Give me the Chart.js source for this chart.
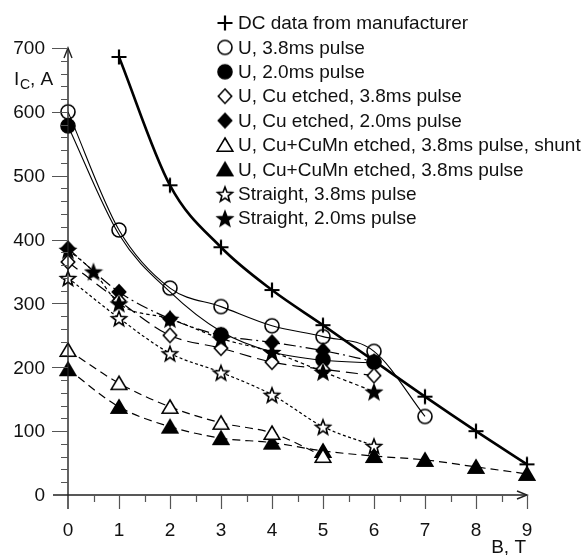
<!DOCTYPE html>
<html>
<head>
<meta charset="utf-8">
<script src="https://cdn.jsdelivr.net/npm/chart.js@4.4.1/dist/chart.umd.min.js"></script>
<style>
  html, body { margin: 0; padding: 0; background: #fff; }
  #wrap { width: 587px; height: 555px; }
</style>
</head>
<body>
<div id="wrap"><canvas id="chart" width="587" height="555"></canvas></div>
<script>
// ---------------------------------------------
// Data (B in T, Ic in A)
// ---------------------------------------------
const dcB      = [1, 2, 3, 4, 5, 6, 7, 8, 9];
const dcIc     = [686, 485, 388, 321, 266, 210, 154, 100, 48];
const dcMarked = [1, 1, 1, 1, 1, 0, 1, 1, 1];   // no "+" drawn at 6 T

const u38B  = [0, 1, 2, 3, 4, 5, 6, 7];
const u38Ic = [600, 415, 324, 295, 265, 248, 225, 123];

const u20B  = [0, 3, 5, 6];
const u20Ic = [578, 251, 212, 208];
// fitted curve drawn through the 2.0ms points
const u20FitB  = [0, 1, 2, 3, 4, 5, 6];
const u20FitIc = [578, 408, 318, 256, 224, 211, 207];

const cu38B  = [0, 1, 2, 3, 4, 5, 6];
const cu38Ic = [365, 304, 250, 230, 208, 197, 187];

const cu20B  = [0, 1, 2, 3, 4, 5, 6];
const cu20Ic = [386, 318, 276, 250, 239, 226, 209];

const mnShuntB  = [0, 1, 2, 3, 4, 5];
const mnShuntIc = [227, 175, 138, 113, 97, 61];

const mn38B  = [0, 1, 2, 3, 4, 5, 6, 7, 8, 9];
const mn38Ic = [197, 138, 107, 89, 82, 69, 61, 55, 44, 33];

const st38B  = [0, 1, 2, 3, 4, 5, 6];
const st38Ic = [340, 277, 222, 192, 157, 107, 77];

const st20B  = [0, 0.5, 1, 2, 3, 4, 5, 6];
const st20Ic = [384, 350, 300, 276, 245, 224, 193, 162];

const xTicks = [0, 1, 2, 3, 4, 5, 6, 7, 8, 9];
const yTicks = [0, 100, 200, 300, 400, 500, 600, 700];

const legendLabels = [
  'DC data from manufacturer',
  'U, 3.8ms pulse',
  'U, 2.0ms pulse',
  'U, Cu etched, 3.8ms pulse',
  'U, Cu etched, 2.0ms pulse',
  'U, Cu+CuMn etched, 3.8ms pulse, shunt',
  'U, Cu+CuMn etched, 3.8ms pulse',
  'Straight, 3.8ms pulse',
  'Straight, 2.0ms pulse'
];

const FONT = '"Liberation Sans", Arial, sans-serif';

// ─────────────────────────────────────────
// Marker images (shared by plot and legend)
// ─────────────────────────────────────────
function makeMarker(shape, filled) {
  const s = 20, c = s / 2;
  const cv = document.createElement('canvas');
  cv.width = s; cv.height = s;
  const g = cv.getContext('2d');
  g.strokeStyle = '#000';
  g.fillStyle = filled ? '#000' : '#fff';
  g.lineWidth = 1.6;
  g.beginPath();
  if (shape === 'plus') {
    g.lineWidth = 2.2;
    g.moveTo(c - 7.5, c); g.lineTo(c + 7.5, c);
    g.moveTo(c, c - 7.5); g.lineTo(c, c + 7.5);
    g.stroke();
    return cv;
  }
  if (shape === 'circle') {
    g.arc(c, c, 7, 0, Math.PI * 2);
  } else if (shape === 'diamond') {
    g.moveTo(c, c - 7.2); g.lineTo(c + 6.7, c); g.lineTo(c, c + 7.2); g.lineTo(c - 6.7, c);
    g.closePath();
  } else if (shape === 'triangle') {
    g.moveTo(c, c - 7); g.lineTo(c + 7.8, c + 6.2); g.lineTo(c - 7.8, c + 6.2);
    g.closePath();
  } else if (shape === 'star') {
    for (let i = 0; i < 10; i++) {
      const r = i % 2 === 0 ? 7.8 : 3.3;
      const a = -Math.PI / 2 + i * Math.PI / 5;
      const px = c + r * Math.cos(a), py = c + 1 + r * Math.sin(a);
      if (i === 0) g.moveTo(px, py); else g.lineTo(px, py);
    }
    g.closePath();
  }
  if (filled || shape !== 'circle') g.fill();
  g.stroke();
  return cv;
}

const M = {
  plus:      makeMarker('plus', true),
  circO:     makeMarker('circle', false),
  circF:     makeMarker('circle', true),
  diaO:      makeMarker('diamond', false),
  diaF:      makeMarker('diamond', true),
  triO:      makeMarker('triangle', false),
  triF:      makeMarker('triangle', true),
  starO:     makeMarker('star', false),
  starF:     makeMarker('star', true)
};
const legendMarkers = [M.plus, M.circO, M.circF, M.diaO, M.diaF, M.triO, M.triF, M.starO, M.starF];

function pts(xs, ys) { return xs.map((x, i) => ({ x, y: ys[i] })); }

function series(label, xs, ys, marker, width, dash, extra) {
  return Object.assign({
    label,
    data: pts(xs, ys),
    borderColor: '#000',
    backgroundColor: '#000',
    borderWidth: width,
    borderDash: dash,
    pointStyle: marker,
    pointRadius: marker ? 8 : 0,
    pointHoverRadius: 0,
    cubicInterpolationMode: 'monotone',
    clip: false,
    fill: false
  }, extra || {});
}

const datasets = [
  series(legendLabels[5], mnShuntB, mnShuntIc, M.triO, 1.2, [8, 5]),
  series(legendLabels[6], mn38B, mn38Ic, M.triF, 1.2, [8, 5]),
  series(legendLabels[7], st38B, st38Ic, M.starO, 1.2, [3, 2.5]),
  series(legendLabels[8], st20B, st20Ic, M.starF, 1.2, [3.5, 3]),
  series(legendLabels[3], cu38B, cu38Ic, M.diaO, 1.2, [12, 6]),
  series(legendLabels[4], cu20B, cu20Ic, M.diaF, 1.2, [12, 4, 2, 4]),
  series('fit', u20FitB, u20FitIc, null, 1.1, []),
  series(legendLabels[2], u20B, u20Ic, M.circF, 0, [], { showLine: false }),
  series(legendLabels[1], u38B, u38Ic, M.circO, 1.1, []),
  series(legendLabels[0], dcB, dcIc, M.plus, 2.6, [], {
    pointRadius: dcMarked.map(m => m ? 8 : 0)
  })
];

// ─────────────────────────────────────────
// Axes, ticks, labels and legend drawn on canvas
// ─────────────────────────────────────────
const axesPlugin = {
  id: 'axesPlugin',
  afterDatasetsDraw(chart) {
    const ctx = chart.ctx;
    const xs = chart.scales.x, ys = chart.scales.y;
    const x0 = xs.getPixelForValue(0), x9 = xs.getPixelForValue(9);
    const y0 = ys.getPixelForValue(0), y7 = ys.getPixelForValue(700);
    ctx.save();

    // axis lines
    ctx.strokeStyle = '#222';
    ctx.lineWidth = 1.4;
    ctx.beginPath();
    ctx.moveTo(x0, y0 + 14); ctx.lineTo(x0, y7);
    ctx.moveTo(x0 - 15, y0); ctx.lineTo(x9, y0);
    ctx.stroke();
    // arrow heads
    ctx.beginPath();
    ctx.moveTo(x0 - 4, y7 + 10); ctx.lineTo(x0, y7); ctx.lineTo(x0 + 4, y7 + 10);
    ctx.moveTo(x9 - 10, y0 - 4); ctx.lineTo(x9, y0); ctx.lineTo(x9 - 10, y0 + 4);
    ctx.stroke();

    // y ticks every 20, major every 100
    ctx.strokeStyle = '#555';
    ctx.lineWidth = 1.2;
    ctx.beginPath();
    for (let v = 20; v <= 700; v += 20) {
      const py = Math.round(ys.getPixelForValue(v)) + 0.5;
      const len = v % 100 === 0 ? 16 : 7;
      ctx.moveTo(x0 - len, py); ctx.lineTo(x0, py);
    }
    // x ticks every 0.5, major every 1
    for (let v = 0.5; v <= 9; v += 0.5) {
      const px = Math.round(xs.getPixelForValue(v)) + 0.5;
      const len = v % 1 === 0 ? 14 : 7;
      ctx.moveTo(px, y0); ctx.lineTo(px, y0 + len);
    }
    ctx.stroke();

    // tick labels
    ctx.fillStyle = '#111';
    ctx.font = '19px ' + FONT;
    ctx.textAlign = 'right';
    ctx.textBaseline = 'middle';
    yTicks.forEach(v => ctx.fillText(String(v), x0 - 23, ys.getPixelForValue(v) + 1));
    ctx.textAlign = 'center';
    ctx.textBaseline = 'top';
    xTicks.forEach(v => ctx.fillText(String(v), xs.getPixelForValue(v), y0 + 26));

    // axis titles
    ctx.textAlign = 'left';
    ctx.textBaseline = 'alphabetic';
    ctx.fillText('I', 14, 85);
    ctx.font = '14px ' + FONT;
    ctx.fillText('C', 20, 89);
    ctx.font = '19px ' + FONT;
    ctx.fillText(', A', 30, 85);
    ctx.textAlign = 'right';
    ctx.fillText('B, T', x9 - 1, 553);

    // legend
    ctx.textAlign = 'left';
    ctx.textBaseline = 'middle';
    legendLabels.forEach((t, i) => {
      const ly = 23 + i * 24.4;
      ctx.drawImage(legendMarkers[i], 225 - 10, ly - 10);
      ctx.fillText(t, 238, ly + 1);
    });
    ctx.restore();
  }
};

new Chart(document.getElementById('chart'), {
  type: 'line',
  data: { datasets },
  options: {
    responsive: false,
    animation: false,
    devicePixelRatio: 1,
    layout: { padding: { left: 68, right: 60, top: 48, bottom: 60 } },
    plugins: { legend: { display: false }, tooltip: { enabled: false } },
    scales: {
      x: { type: 'linear', min: 0, max: 9, display: false },
      y: { type: 'linear', min: 0, max: 700, display: false }
    }
  },
  plugins: [axesPlugin]
});
</script>
</body>
</html>
